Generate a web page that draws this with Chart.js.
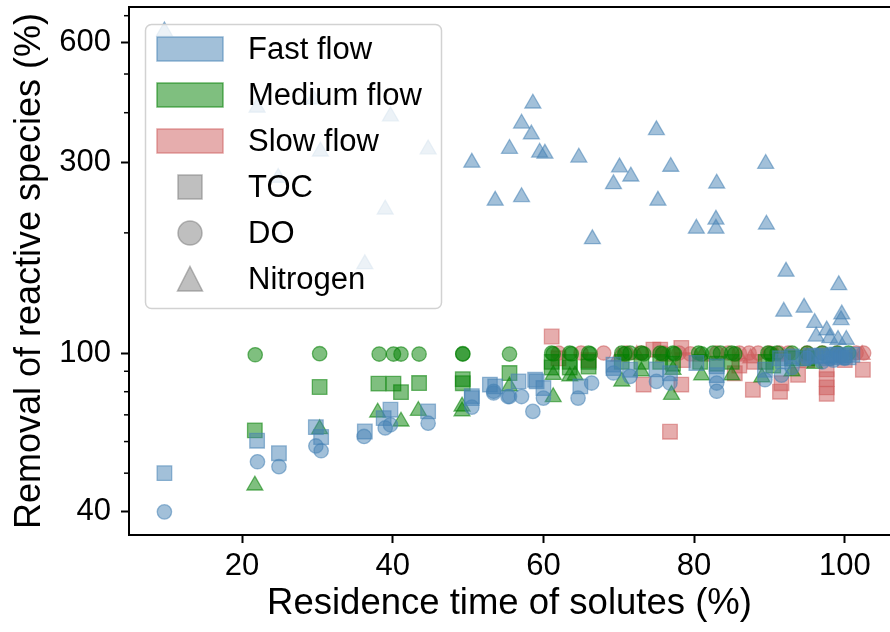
<!DOCTYPE html>
<html lang="en">
<head>
<meta charset="UTF-8" />
<title>Removal of reactive species vs residence time</title>
<script src="https://cdn.jsdelivr.net/npm/chart.js"></script>
<style>
  body { margin: 0; background: #fff; }
  #wrap { width: 890px; height: 632px; }
</style>
</head>
<body>
<div id="wrap"><canvas id="removalChart" width="890" height="632"></canvas></div>
<script>
// ---- data: [residence time %, removal %] ----
const fastToc = [[9.7,50],[22.0,60.3],[24.9,56.1],[29.8,65.2],[30.5,61.6],[36.3,63.6],[38.8,68.7],[39.7,72.1],[44.7,71.4],
  [50.5,77.1],[50.5,78],[52.9,83.3],[53.6,82.5],[56.7,84.9],[59.1,84.9],[60.0,81.7],[58.9,85.7],[64.9,82.5],[69.3,91.7],
  [69.3,93.5],[71.5,90.8],[75,91],[76.8,89],[80.3,94.4],[83,92.6],[83,88],[89.4,90.8],[91.4,97],[91.8,95.3],[93,98],
  [94.5,97],[95.5,98.5],[96,98],[97,98.5],[97.5,97],[98,98],[98.5,99],[99,99],[99.5,97.5],[100,98.5],[100.5,97.5],[101,99]];
const fastDo = [[9.7,40],[22.05,53.4],[24.9,51.9],[29.8,58.5],[30.5,56.9],[36.2,61.8],[39.0,64.9],[39.7,66.1],[44.7,66.7],
  [50.5,73.2],[53.4,79.4],[53.4,80.2],[55.3,77.8],[55.5,77.8],[57.1,77.8],[58.6,71.4],[60.0,77.1],[64.6,77.1],[66.4,84.1],
  [69.3,89.1],[71.5,87.4],[75.0,84.9],[76.8,84.1],[83,80.2],[83,84.1],[89.4,85.7],[91.6,88],[93,92],[95,97],[97,95],
  [98,97],[98.5,96],[99.5,98],[100,97]];
const fastN = [[9.7,640],[22.0,412],[24.8,275],[29.5,432],[30.4,320],[36.3,167],[39.0,229],[39.7,392],[44.7,324],
  [50.5,300],[53.6,241],[55.5,325],[57.1,376],[57.1,246],[58.4,353],[58.6,422],[59.5,318],[60.2,316],[64.7,309],
  [66.5,193],[69.3,265],[70.1,292],[71.6,277],[75.0,362],[75.2,241],[76.9,293],[80.3,205],[82.9,216],[82.9,205],
  [83.0,266],[89.5,298],[89.6,210],[91.9,127],[92.2,160],[94.6,130],[96.0,119],[96.2,110],[97.6,114],[98,109],
  [99.1,108],[99.2,148],[99.6,125],[100.2,108],[99.5,121]];

const medToc = [[21.7,64],[30.3,82.2],[38.1,83.8],[40.1,83.8],[41.1,79.8],[43.5,84.1],[49.3,86],[49.3,84],[55.5,89.1],
  [61.1,95],[61.1,92],[63.5,95],[63.5,92],[66,95],[66,92.5],[70.4,95],[73,95],[75.5,95],[77.2,94],[80.8,95],[83,94],
  [85,95],[89.5,95],[90.5,93],[93,97],[95,97]];
const medDo = [[21.75,99],[30.3,99.6],[38.2,99.4],[40.1,99.4],[41.1,99.4],[43.5,99.4],[49.3,99.4],[49.3,99.6],[55.5,99.4],
  [61.1,100],[61.3,99.5],[63.5,100],[63.7,99.5],[66,100],[66.2,99.5],[70.4,100],[70.8,99.5],[71.5,100],[73,100],[73.3,99.5],
  [75.5,100],[75.8,99.5],[77.2,100],[77.4,99.5],[80.6,100],[81,99.5],[82.5,100],[83.5,100],[85,100],[85.4,99.5],
  [89.8,100],[90.2,99.5],[91,100],[93,100],[95,100],[97,100],[99,100],[100.5,100]];
const medN = [[21.7,46.6],[30.3,64.5],[38,71],[41.1,67.4],[43.4,71.7],[49.2,73.5],[49.2,71.5],[55.5,82.5],[61.3,88.2],
  [61.3,77.6],[63.5,87.4],[64.2,88],[70.4,84.9],[73,90],[77.0,78.6],[77.2,90.8],[81,88],[85,88],[89,87],[93,90],[96,94]];

const slowToc = [[61.1,110],[62,97],[66,96],[73.3,83.3],[74.6,102],[75.5,102],[76.8,63.5],[78.3,103],[78.3,83.3],[78.5,96],
  [85.4,89],[86,93],[87.8,80.9],[88,95],[91.4,80],[91.6,84],[93.8,88.2],[95,96],[97.6,91],[97.6,86],[97.6,82],[97.6,79],
  [100,96],[102.4,90.8]];
const slowDo = [[62,100],[65,100],[68,100],[71,100],[73,100],[76,100],[78,100],[79.5,99.5],[83,100],[84.5,100],[86,100],
  [87.3,100],[88.5,100],[90,100],[91.3,100],[92.5,100],[95,100],[97,100],[99,100],[101.5,100],[102.5,100]];
const slowN = [[70,98],[72.4,99],[76,98],[81,98],[86,98],[87.5,97],[91,98],[95,98],[99,98],[102.3,99]];

const flowNames = ["Fast flow", "Medium flow", "Slow flow"];
const speciesNames = ["TOC", "DO", "Nitrogen"];
const yMajorTicks = [40, 100, 300, 600];
const yMinorTicks = [50, 60, 70, 80, 90, 200, 400, 500, 700];
const xTicks = [20, 40, 60, 80, 100];

const flowColors = ["70,130,180", "0,128,0", "205,92,92"];
const FONT = "'Liberation Sans', Arial, sans-serif";

function toPoints(arr) {
  return arr.map((p) => ({ x: p[0], y: p[1] }));
}

function series(data, flow, shape) {
  const c = flowColors[flow];
  const radius = shape === "rect" ? 10.3 : shape === "circle" ? 7.2 : 9.2;
  return {
    data: toPoints(data),
    pointStyle: shape,
    pointRadius: radius,
    pointHoverRadius: radius,
    backgroundColor: `rgba(${c},0.5)`,
    borderColor: `rgba(${c},0.55)`,
    borderWidth: 1.3,
    showLine: false,
  };
}

// first dataset is painted last (on top): blue over green over red
const datasets = [
  series(fastN, 0, "triangle"),
  series(fastToc, 0, "rect"),
  series(fastDo, 0, "circle"),
  series(medN, 1, "triangle"),
  series(medToc, 1, "rect"),
  series(medDo, 1, "circle"),
  series(slowN, 2, "triangle"),
  series(slowToc, 2, "rect"),
  series(slowDo, 2, "circle"),
];

// frame top line, minor y ticks and the matplotlib-like legend
const decorPlugin = {
  id: "decor",
  afterDatasetsDraw(chart) {
    const { ctx, chartArea, scales } = chart;
    ctx.save();
    ctx.strokeStyle = "#000";
    ctx.lineWidth = 2;
    ctx.beginPath();
    ctx.moveTo(chartArea.left - 1, chartArea.top);
    ctx.lineTo(chartArea.right, chartArea.top);
    ctx.stroke();

    ctx.lineWidth = 1.5;
    yMinorTicks.forEach((v) => {
      const y = scales.y.getPixelForValue(v);
      ctx.beginPath();
      ctx.moveTo(chartArea.left - 5, y);
      ctx.lineTo(chartArea.left, y);
      ctx.stroke();
    });

    // legend box
    const bx = 145.5, by = 24.5, bw = 296, bh = 284;
    ctx.beginPath();
    ctx.roundRect(bx, by, bw, bh, 6);
    ctx.fillStyle = "rgba(255,255,255,0.8)";
    ctx.fill();
    ctx.strokeStyle = "#d2d2d2";
    ctx.lineWidth = 1.5;
    ctx.stroke();

    const rowY = (i) => 49 + 46 * i;
    flowNames.forEach((name, i) => {
      const c = flowColors[i];
      ctx.fillStyle = `rgba(${c},0.5)`;
      ctx.strokeStyle = `rgba(${c},0.55)`;
      ctx.lineWidth = 1.5;
      ctx.fillRect(157, rowY(i) - 12, 66, 24);
      ctx.strokeRect(157, rowY(i) - 12, 66, 24);
    });

    ctx.fillStyle = "rgba(128,128,128,0.5)";
    ctx.strokeStyle = "rgba(128,128,128,0.55)";
    ctx.lineWidth = 1.5;
    let y = rowY(3);
    ctx.fillRect(178, y - 12, 24, 24);
    ctx.strokeRect(178, y - 12, 24, 24);
    y = rowY(4);
    ctx.beginPath();
    ctx.arc(190, y, 12, 0, Math.PI * 2);
    ctx.fill();
    ctx.stroke();
    y = rowY(5);
    ctx.beginPath();
    ctx.moveTo(190, y - 12.5);
    ctx.lineTo(202.5, y + 12);
    ctx.lineTo(177.5, y + 12);
    ctx.closePath();
    ctx.fill();
    ctx.stroke();

    ctx.fillStyle = "#000";
    ctx.font = `31px ${FONT}`;
    ctx.textBaseline = "middle";
    ctx.textAlign = "left";
    flowNames.concat(speciesNames).forEach((t, i) => {
      ctx.fillText(t, 248, rowY(i) + 1);
    });
    ctx.restore();
  },
};

new Chart(document.getElementById("removalChart"), {
  type: "scatter",
  data: { datasets },
  options: {
    responsive: false,
    animation: false,
    layout: { autoPadding: false, padding: { top: 7, right: 0, left: 0, bottom: 0 } },
    plugins: { legend: { display: false }, tooltip: { enabled: false } },
    scales: {
      x: {
        type: "linear",
        min: 5,
        max: 106,
        afterBuildTicks: (scale) => {
          scale.ticks = xTicks.map((v) => ({ value: v }));
        },
        afterFit: (scale) => {
          scale.height = 97;
          scale.paddingLeft = 0;
          scale.paddingRight = 0;
        },
        border: { color: "#000", width: 2 },
        grid: { drawOnChartArea: false, tickLength: 8, tickWidth: 2, tickColor: "#000" },
        ticks: { color: "#000", font: { family: FONT, size: 31 }, padding: 5, maxRotation: 0 },
        title: {
          display: true,
          text: "Residence time of solutes (%)",
          color: "#000",
          font: { family: FONT, size: 36.5 },
          padding: { top: 0, bottom: 6 },
        },
      },
      y: {
        type: "logarithmic",
        min: 35,
        max: 736,
        afterBuildTicks: (scale) => {
          scale.ticks = yMajorTicks.map((v) => ({ value: v }));
        },
        afterFit: (scale) => {
          scale.width = 129;
          scale.paddingTop = 0;
          scale.paddingBottom = 0;
        },
        border: { color: "#000", width: 2 },
        grid: { drawOnChartArea: false, tickLength: 8, tickWidth: 2, tickColor: "#000" },
        ticks: {
          color: "#000",
          font: { family: FONT, size: 31 },
          padding: 10,
          autoSkip: false,
          callback: (v) => String(v),
        },
        title: {
          display: true,
          text: "Removal of reactive species (%)",
          color: "#000",
          font: { family: FONT, size: 36 },
          padding: { top: 8, bottom: 0 },
        },
      },
    },
  },
  plugins: [decorPlugin],
});
</script>
</body>
</html>
